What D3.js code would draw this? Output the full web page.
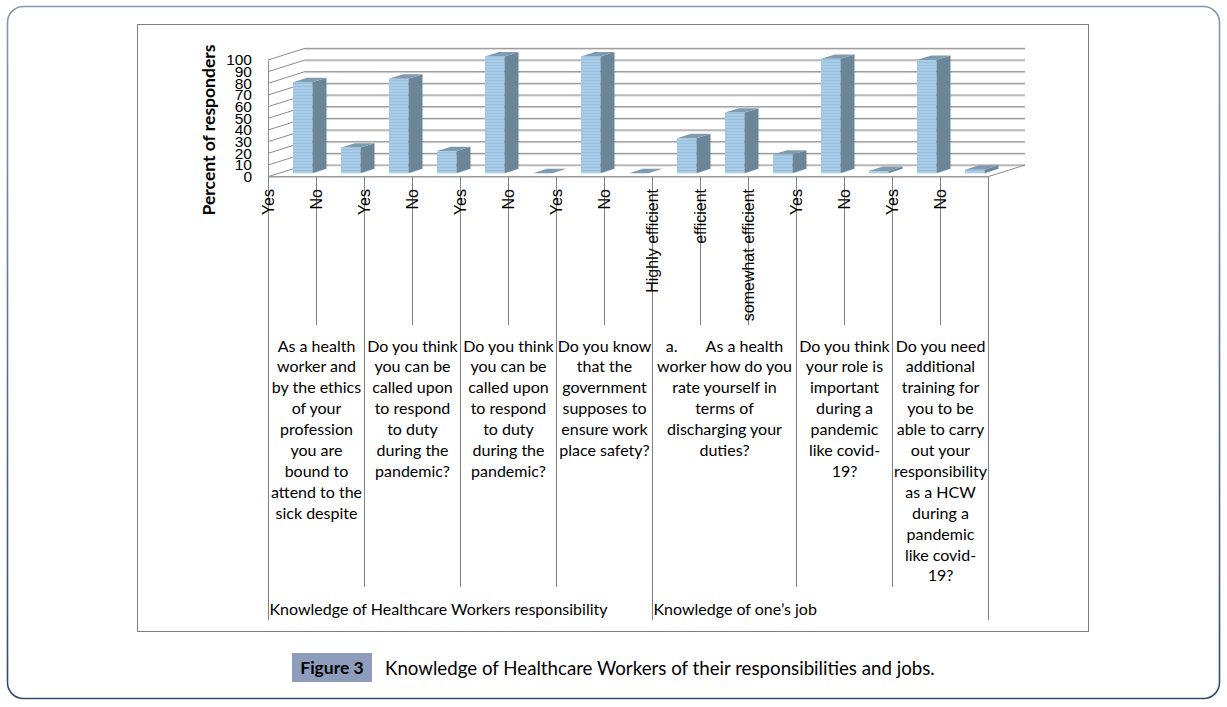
<!DOCTYPE html>
<html>
<head>
<meta charset="utf-8">
<script src="https://cdn.jsdelivr.net/npm/d3@7"></script>
<style>
  html, body { margin: 0; padding: 0; background: #fff; }
  svg text { fill: #000; }
</style>
</head>
<body>
<svg id="chart" width="1227" height="707"></svg>
<script>
// categories along the axis (one bar each)
const categories = ['Yes', 'No', 'Yes', 'No', 'Yes', 'No', 'Yes', 'No',
  'Highly efficient', 'efficient', 'somewhat efficient', 'Yes', 'No', 'Yes', 'No'];
const percents = [78, 22, 81, 19, 100, 0, 100, 0, 30, 52, 16, 98, 2, 97, 3];
const yTicks = [0, 10, 20, 30, 40, 50, 60, 70, 80, 90, 100];

// second level: question text (already wrapped as in the source) and the categories it spans
const questionLines = [
  ['As a health', 'worker and', 'by the ethics', 'of your', 'profession', 'you are', 'bound to', 'attend to the', 'sick despite'],
  ['Do you think', 'you can be', 'called upon', 'to respond', 'to duty', 'during the', 'pandemic?'],
  ['Do you think', 'you can be', 'called upon', 'to respond', 'to duty', 'during the', 'pandemic?'],
  ['Do you know', 'that the', 'government', 'supposes to', 'ensure work', 'place safety?'],
  ['a.       As a health', 'worker how do you', 'rate yourself in', 'terms of', 'discharging your', 'duties?'],
  ['Do you think', 'your role is', 'important', 'during a', 'pandemic', 'like covid-', '19?'],
  ['Do you need', 'additional', 'training for', 'you to be', 'able to carry', 'out your', 'responsibility', 'as a HCW', 'during a', 'pandemic', 'like covid-', '19?']
];
const questionSpans = [[0, 2], [2, 4], [4, 6], [6, 8], [8, 11], [11, 13], [13, 15]];

// third level
const sections = ['Knowledge of Healthcare Workers responsibility', 'Knowledge of one\u2019s job'];
const sectionSpans = [[0, 8], [8, 15]];

const yTitle = 'Percent of responders';
const figLabel = 'Figure 3';
const caption = 'Knowledge of Healthcare Workers of their responsibilities and jobs.';

const svg = d3.select('#chart');
const defs = svg.append('defs');

// outer frame
const fg = defs.append('linearGradient').attr('id', 'frameGrad')
  .attr('x1', 0).attr('y1', 0).attr('x2', 0).attr('y2', 1);
fg.append('stop').attr('offset', '0%').attr('stop-color', '#8599b3');
fg.append('stop').attr('offset', '100%').attr('stop-color', '#2e4a73');

svg.append('rect')
  .attr('x', 7.5).attr('y', 6.5).attr('width', 1212).attr('height', 692)
  .attr('rx', 16).attr('ry', 16)
  .attr('fill', 'none').attr('stroke', 'url(#frameGrad)').attr('stroke-width', 1.6);

// chart box
svg.append('rect')
  .attr('x', 137.5).attr('y', 24.5).attr('width', 951).attr('height', 607)
  .attr('fill', '#fff').attr('stroke', '#808080').attr('stroke-width', 1);

// striped front face of the columns
const pat = defs.append('pattern').attr('id', 'stripes')
  .attr('patternUnits', 'userSpaceOnUse').attr('width', 4).attr('height', 3);
pat.append('rect').attr('width', 4).attr('height', 3).attr('fill', '#a9cce8');
pat.append('rect').attr('y', 2).attr('width', 4).attr('height', 1).attr('fill', '#98bedd');

// scales
const x = d3.scaleBand()
  .domain(d3.range(categories.length))
  .range([268, 988])
  .padding(0);
const y = d3.scaleLinear().domain([0, 100]).range([176.7, 60]);

const depth = 37;
const k = 11.67 / 37; // vertical rise per px of depth
const xEnd = x.range()[1];

// side wall + back wall gridlines
const grid = svg.append('g');
yTicks.forEach(v => {
  const yf = y(v), yb = y(v) - depth * k;
  grid.append('line')
    .attr('x1', 268).attr('y1', yf).attr('x2', 268 + depth).attr('y2', yb)
    .attr('stroke', '#8c8c8c').attr('stroke-width', 1);
  grid.append('line')
    .attr('x1', 268 + depth).attr('y1', yb + 1).attr('x2', xEnd + depth).attr('y2', yb + 1)
    .attr('stroke', '#d4d4d4').attr('stroke-width', 1);
  grid.append('line')
    .attr('x1', 268 + depth).attr('y1', yb).attr('x2', xEnd + depth).attr('y2', yb)
    .attr('stroke', '#8c8c8c').attr('stroke-width', 1);
});

// floor front and right edges
grid.append('line')
  .attr('x1', 268).attr('y1', y(0)).attr('x2', xEnd).attr('y2', y(0))
  .attr('stroke', '#999').attr('stroke-width', 1.6);
grid.append('line')
  .attr('x1', xEnd).attr('y1', y(0)).attr('x2', xEnd + depth).attr('y2', y(0) - depth * k)
  .attr('stroke', '#8c8c8c').attr('stroke-width', 1);

// y axis (labels overlap in the source too, they are packed tight)
const yAxis = svg.append('g')
  .attr('transform', 'translate(268,0)')
  .call(d3.axisLeft(y).tickValues(yTicks).tickSize(0).tickSizeOuter(0).tickPadding(16));
yAxis.select('.domain').attr('stroke', '#8c8c8c');
yAxis.selectAll('text')
  .attr('font-family', 'Liberation Sans, Arial, sans-serif')
  .attr('font-size', 15.5)
  .attr('fill', '#000');

svg.append('text')
  .attr('transform', 'translate(215,130) rotate(-90)')
  .attr('text-anchor', 'middle')
  .attr('font-family', 'Lato, sans-serif')
  .attr('font-weight', 'bold')
  .attr('font-size', 17.5)
  .text(yTitle);

// 3D columns
const dFront = 11, bw = 19.5, bd = 14;
const bars = svg.append('g').selectAll('g')
  .data(percents)
  .join('g');

bars.each(function (v, i) {
  const g = d3.select(this);
  const fx = x(i) + 25;
  const y0 = y(0) - dFront * k;
  const y1 = y(v) - dFront * k;
  const dy = bd * k;
  if (v > 0) {
    g.append('rect')
      .attr('x', fx).attr('y', y1).attr('width', bw).attr('height', y0 - y1)
      .attr('fill', 'url(#stripes)');
    g.append('path')
      .attr('d', `M${fx + bw},${y1}L${fx + bw + bd},${y1 - dy}L${fx + bw + bd},${y0 - dy}L${fx + bw},${y0}Z`)
      .attr('fill', '#6a8698');
  }
  g.append('path')
    .attr('d', `M${fx},${y1}L${fx + bd},${y1 - dy}L${fx + bw + bd},${y1 - dy}L${fx + bw},${y1}Z`)
    .attr('fill', '#7f9bb0');
});

// category separators of differing length
const sectionEdges = new Set(sectionSpans.flat());
const questionEdges = new Set(questionSpans.flat());
const edges = d3.range(categories.length + 1);
svg.append('g').selectAll('line')
  .data(edges)
  .join('line')
  .attr('x1', j => (j < categories.length ? x(j) : xEnd) + 0.5)
  .attr('x2', j => (j < categories.length ? x(j) : xEnd) + 0.5)
  .attr('y1', y(0))
  .attr('y2', j => sectionEdges.has(j) ? 620 : questionEdges.has(j) ? 587 : 325)
  .attr('stroke', '#808080')
  .attr('stroke-width', 1);

// first level labels, rotated
svg.append('g').selectAll('text')
  .data(categories)
  .join('text')
  .attr('transform', (d, i) => `translate(${x(i) + 6},189) rotate(-90)`)
  .attr('text-anchor', 'end')
  .attr('font-family', 'Liberation Sans, Arial, sans-serif')
  .attr('font-size', 16)
  .text(d => d);

// second level labels
const qFont = 'Lato, sans-serif';
questionLines.forEach((lines, qi) => {
  const [a, b] = questionSpans[qi];
  const cx = (x(a) + (b < categories.length ? x(b) : xEnd)) / 2;
  const t = svg.append('text')
    .attr('text-anchor', 'middle')
    .attr('font-family', qFont)
    .attr('font-size', 16)
    .style('white-space', 'pre');
  lines.forEach((ln, li) => {
    t.append('tspan').attr('x', cx + 0.5).attr('y', 351.5 + li * 20.9).text(ln);
  });
});

// third level labels
svg.append('g').selectAll('text')
  .data(sections)
  .join('text')
  .attr('x', (d, i) => x(sectionSpans[i][0]) + 1.5)
  .attr('y', 614.5)
  .attr('font-family', qFont)
  .attr('font-size', 16)
  .text(d => d);

// caption
svg.append('rect')
  .attr('x', 292).attr('y', 653).attr('width', 80).attr('height', 29)
  .attr('fill', '#8e9dbb');
svg.append('text')
  .attr('x', 332).attr('y', 674)
  .attr('text-anchor', 'middle')
  .attr('font-family', qFont)
  .attr('font-weight', 'bold')
  .attr('font-size', 17.5)
  .attr('fill', '#111')
  .text(figLabel);
svg.append('text')
  .attr('x', 385).attr('y', 674.5)
  .attr('font-family', qFont)
  .attr('font-size', 18.7)
  .attr('fill', '#222')
  .text(caption);
</script>
</body>
</html>
